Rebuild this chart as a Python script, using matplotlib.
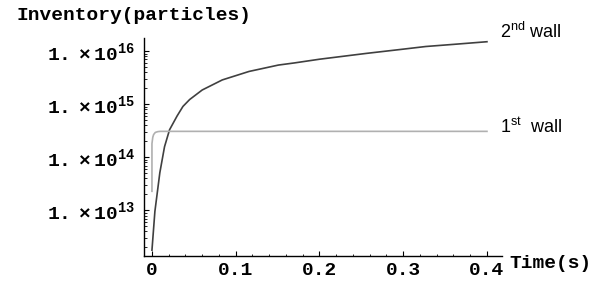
import numpy as np
import matplotlib
matplotlib.use("Agg")
import matplotlib.pyplot as plt
from matplotlib.ticker import MultipleLocator, LogLocator, FuncFormatter, NullFormatter

plt.rcParams['mathtext.fontset'] = 'custom'
plt.rcParams['mathtext.bf'] = 'Liberation Mono:bold'
plt.rcParams['mathtext.rm'] = 'Liberation Sans'

# 2nd wall inventory (time in s, log10 of particles)
t_second = [0.0, 0.0035, 0.0094, 0.015, 0.021, 0.030, 0.037, 0.045, 0.060, 0.084,
            0.116, 0.151, 0.170, 0.200, 0.256, 0.300, 0.327, 0.360, 0.400]
log_second = [12.25, 12.98, 13.71, 14.20, 14.52, 14.78, 14.96, 15.09, 15.27, 15.46,
              15.62, 15.74, 15.78, 15.85, 15.96, 16.04, 16.09, 16.13, 16.18]

# 1st wall inventory
t_first = [0.0, 0.0, 0.001, 0.002, 0.004, 0.007, 0.010, 0.400]
log_first = [13.36, 14.26, 14.38, 14.43, 14.47, 14.485, 14.49, 14.49]

x_ticks = [0, 0.1, 0.2, 0.3, 0.4]
x_tick_labels = ['0', '0.1', '0.2', '0.3', '0.4']

mono = 'Liberation Mono'
fs = 14

fig = plt.figure(figsize=(6.06, 2.82), dpi=100)
ax = fig.add_axes([0.2368, 0.0922, 0.5912, 0.7730])

ax.plot(t_second, 10 ** np.array(log_second), color='#404040', lw=1.2)
ax.plot(t_first, 10 ** np.array(log_first), color='#b0b0b0', lw=1.2)

ax.set_yscale('log')
ax.set_xlim(-0.0101, 0.4177)
ax.set_ylim(10 ** 12.14, 10 ** 16.25)

for s in ['top', 'right']:
    ax.spines[s].set_visible(False)
for s in ['left', 'bottom']:
    ax.spines[s].set_linewidth(1.0)

ax.xaxis.set_minor_locator(MultipleLocator(0.02))
ax.set_xticks(x_ticks)
ax.set_xticklabels(x_tick_labels, fontfamily=mono, fontweight='bold', fontsize=fs)

ax.yaxis.set_major_locator(LogLocator(base=10, numticks=10))
ax.yaxis.set_minor_locator(LogLocator(base=10, subs=np.arange(2, 10), numticks=20))
ax.yaxis.set_minor_formatter(NullFormatter())
ax.yaxis.set_major_formatter(FuncFormatter(
    lambda v, p: r'$\mathbf{1.\times10^{%d}}$' % round(np.log10(v))))

ax.tick_params(which='major', direction='in', length=3.5, width=0.8)
ax.tick_params(which='minor', direction='in', length=1.8, width=0.6)
ax.tick_params(axis='x', which='major', pad=4)
ax.tick_params(axis='y', which='major', pad=6, labelsize=fs)

fig.text(17 / 606, 1 - 15 / 282, 'Inventory(particles)', fontfamily=mono,
         fontweight='bold', fontsize=fs, va='center', ha='left')
fig.text(509 / 606, 1 - 263 / 282, 'Time(s)', fontfamily=mono,
         fontweight='bold', fontsize=fs, va='center', ha='left')

fig.text(500 / 606, 1 - 32 / 282, r'2$^{\rm nd}$ wall', fontfamily='Liberation Sans',
         fontsize=13, va='center', ha='left')
fig.text(500 / 606, 1 - 127 / 282, r'1$^{\rm st}$  wall', fontfamily='Liberation Sans',
         fontsize=13, va='center', ha='left')

fig.savefig('out.png', dpi=100)
